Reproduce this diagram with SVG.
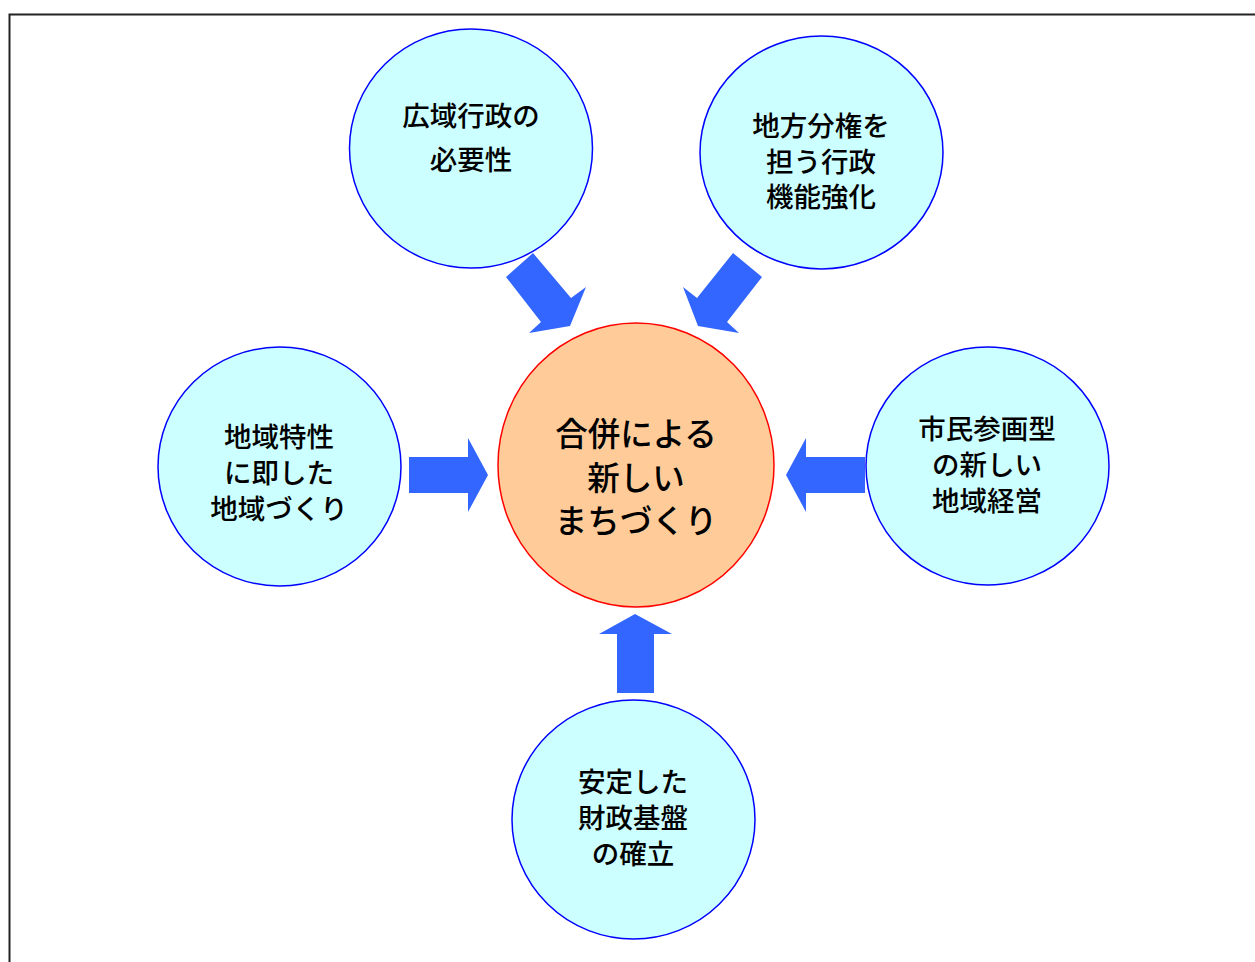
<svg xmlns="http://www.w3.org/2000/svg" width="1255" height="962" viewBox="0 0 1255 962">
<style>
.sub{fill:#CCFFFF;stroke:#0000FF;stroke-width:1.5}
.main{fill:#FFCC99;stroke:#FF0000;stroke-width:1.5}
.arrow{fill:#3366FF;stroke:none}
text{font-family:"Noto Sans CJK JP","Noto Sans",sans-serif;fill:#000;text-anchor:middle;dominant-baseline:central;font-weight:500}
.t{font-size:27.5px}
.tc{font-size:32.5px}
</style>
<rect x="0" y="0" width="1255" height="962" fill="#FFFFFF"/>
<rect x="9.5" y="14.5" width="1260" height="960" fill="none" stroke="#222" stroke-width="2"/>
<g id="connectors">
<polygon class="arrow" points="533,253 506,277 541,322 529,333 570,326 586,287 571,298"/>
<polygon class="arrow" points="733,253 762,277 727,322 739,333 698,326 683,287 697,298"/>
<polygon class="arrow" points="409,457 468,457 468,438 488,475 468,512 468,493 409,493"/>
<polygon class="arrow" points="865,457 806,457 806,438 786,475 806,512 806,493 865,493"/>
<polygon class="arrow" points="617,693 617,634 599,634 635,614 672,634 654,634 654,693"/>
</g>
<g id="center">
<ellipse class="main" cx="636" cy="465" rx="138" ry="142"/>
<text class="tc"><tspan x="636" y="431">合併による</tspan><tspan x="636" y="475">新しい</tspan><tspan x="636" y="518">まちづくり</tspan></text>
</g>
<g id="topleft">
<ellipse class="sub" cx="471" cy="148.5" rx="121.5" ry="119.5"/>
<text class="t"><tspan x="471" y="114">広域行政の</tspan><tspan x="471" y="158">必要性</tspan></text>
</g>
<g id="topright">
<ellipse class="sub" cx="821.5" cy="152.5" rx="121.5" ry="116.5"/>
<text class="t"><tspan x="821" y="124">地方分権を</tspan><tspan x="821" y="160">担う行政</tspan><tspan x="821" y="195">機能強化</tspan></text>
</g>
<g id="left">
<ellipse class="sub" cx="279.5" cy="466.5" rx="121.5" ry="119.5"/>
<text class="t"><tspan x="279" y="435">地域特性</tspan><tspan x="279" y="471">に即した</tspan><tspan x="279" y="507">地域づくり</tspan></text>
</g>
<g id="right">
<ellipse class="sub" cx="987.5" cy="466" rx="121.5" ry="119"/>
<text class="t"><tspan x="987" y="427">市民参画型</tspan><tspan x="987" y="463">の新しい</tspan><tspan x="987" y="499">地域経営</tspan></text>
</g>
<g id="bottom">
<ellipse class="sub" cx="633.5" cy="819.5" rx="121.5" ry="119.5"/>
<text class="t"><tspan x="633" y="780">安定した</tspan><tspan x="633" y="816">財政基盤</tspan><tspan x="633" y="852">の確立</tspan></text>
</g>
</svg>
